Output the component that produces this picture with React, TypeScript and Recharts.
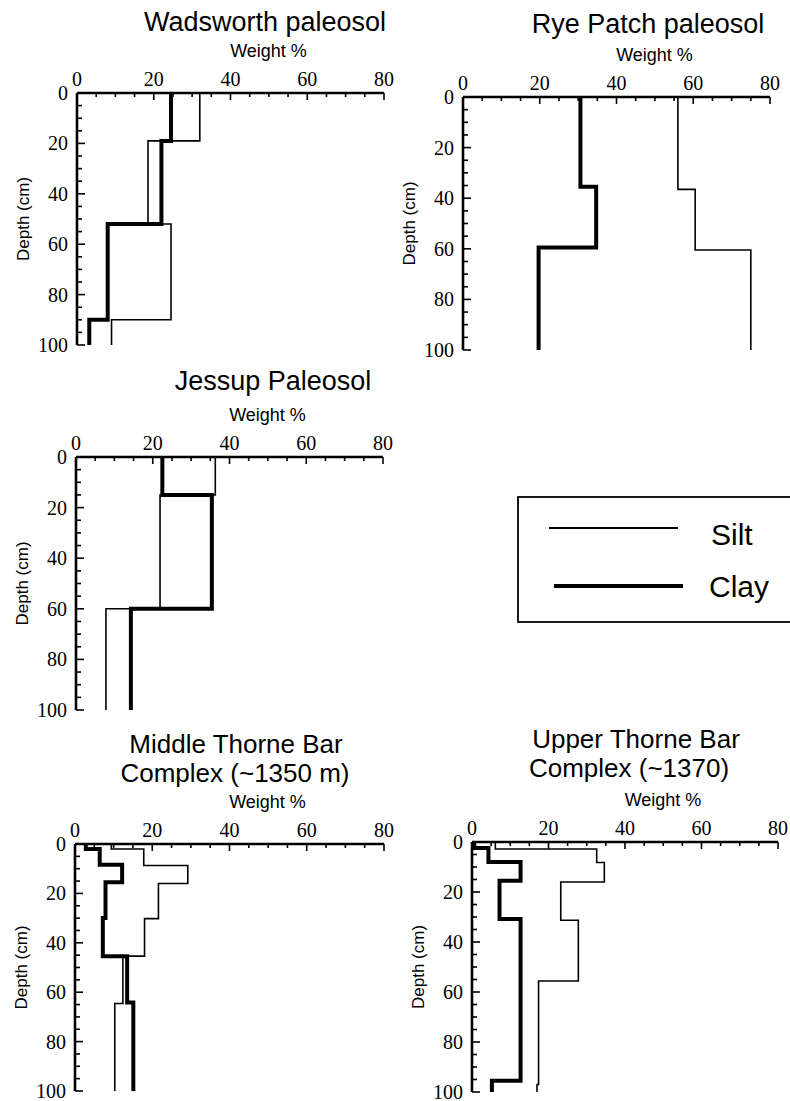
import { LineChart, Line, XAxis, YAxis } from "recharts";

// depth (cm) at the top of each layer, and weight % in that layer
const wadsworthSiltDepth = [0, 19, 52, 90];
const wadsworthSilt = [32, 18.5, 24.5, 9];
const wadsworthClayDepth = [0, 19, 52, 90];
const wadsworthClay = [24.5, 22, 8, 3.2];

const ryeSiltDepth = [0, 36.5, 60.5];
const ryeSilt = [56, 60.5, 75];
const ryeClayDepth = [0, 35.5, 59.5];
const ryeClay = [30.6, 34.7, 19.7];

const jessupSiltDepth = [0, 15, 60];
const jessupSilt = [36.3, 21.9, 7.8];
const jessupClayDepth = [0, 15, 60];
const jessupClay = [22.5, 35.4, 14.3];

const middleSiltDepth = [0, 2, 8.7, 16, 30.2, 45.4, 64.6];
const middleSilt = [9.4, 17.8, 29.2, 21.6, 18, 12.4, 10.3];
const middleClayDepth = [0, 2, 8.4, 15.5, 30, 45.4, 64.2];
const middleClay = [2.8, 6.4, 12.2, 7.9, 7.2, 13.5, 15.1];

const upperSiltDepth = [0, 2.8, 8.2, 16, 31.3, 55.6, 97];
const upperSilt = [6.1, 32.6, 34.6, 23.2, 27.8, 17.4, 17];
const upperClayDepth = [0, 2.4, 8, 15.5, 30.8, 95.5];
const upperClay = [0.6, 4.3, 12.7, 7.2, 12.7, 5.2];

const xTicks = [0, 5, 10, 15, 20, 25, 30, 35, 40, 45, 50, 55, 60, 65, 70, 75, 80];
const yTicks = [0, 5, 10, 15, 20, 25, 30, 35, 40, 45, 50, 55, 60, 65, 70, 75, 80, 85, 90, 95, 100];

// turn layer tops + values into the corners of a step profile
function profile(depths: number[], values: number[]) {
  const pts: { w: number; d: number }[] = [];
  depths.forEach((d, i) => {
    const next = i < depths.length - 1 ? depths[i + 1] : 100;
    pts.push({ w: values[i], d });
    pts.push({ w: values[i], d: next });
  });
  return pts;
}

const SERIF = "Liberation Serif, Times New Roman, serif";
const SANS = "Liberation Sans, Arial, Helvetica, sans-serif";
const AX_W = 70;
const AX_H = 60;
const RIGHT = 30;
const BOTTOM = 14;

const serifText = { fontFamily: SERIF, fontSize: 20 };

const XTick = (props: any) => {
  const { x, y, payload } = props;
  const major = payload.value % 20 === 0;
  return (
    <g>
      <line x1={x} y1={y} x2={x} y2={y + (major ? 7 : 4)} stroke="#000" strokeWidth={1.6} />
      {major && (
        <text x={x} y={y - 7} textAnchor="middle" fill="#000" style={serifText}>
          {payload.value}
        </text>
      )}
    </g>
  );
};

const YTick = (props: any) => {
  const { x, y, payload } = props;
  const major = payload.value % 20 === 0;
  return (
    <g>
      <line x1={x} y1={y} x2={x + (major ? 8 : 5)} y2={y} stroke="#000" strokeWidth={1.6} />
      {major && (
        <text x={x - 9} y={y + 7} textAnchor="end" fill="#000" style={serifText}>
          {payload.value}
        </text>
      )}
    </g>
  );
};

type PanelProps = {
  silt: { w: number; d: number }[];
  clay: { w: number; d: number }[];
  left: number;
  top: number;
  w: number;
  h: number;
};

function Panel({ silt, clay, left, top, w, h }: PanelProps) {
  return (
    <div style={{ position: "absolute", left: left - AX_W, top: top - AX_H }}>
      <LineChart
        width={AX_W + w + RIGHT}
        height={AX_H + h + BOTTOM}
        margin={{ top: 0, right: RIGHT, bottom: BOTTOM, left: 0 }}
      >
        <XAxis
          type="number"
          dataKey="w"
          orientation="top"
          domain={[0, 80]}
          ticks={xTicks}
          interval={0}
          height={AX_H}
          tickSize={0}
          tickMargin={0}
          tickLine={false}
          tick={<XTick />}
          axisLine={{ stroke: "#000", strokeWidth: 2.6 }}
          label={{
            content: ({ viewBox }: any) => (
              <text
                x={viewBox.x + viewBox.width / 2 + 38}
                y={viewBox.y + viewBox.height - 36}
                textAnchor="middle"
                fill="#000"
                style={{ fontFamily: SANS, fontSize: 18 }}
              >
                Weight %
              </text>
            ),
          }}
        />
        <YAxis
          type="number"
          domain={[0, 100]}
          reversed
          ticks={yTicks}
          interval={0}
          width={AX_W}
          tickSize={0}
          tickMargin={0}
          tickLine={false}
          tick={<YTick />}
          axisLine={{ stroke: "#000", strokeWidth: 2.6 }}
          label={{
            content: ({ viewBox }: any) => {
              const cx = viewBox.x + viewBox.width - 54;
              const cy = viewBox.y + viewBox.height / 2;
              return (
                <text
                  x={cx}
                  y={cy}
                  transform={`rotate(-90, ${cx}, ${cy})`}
                  textAnchor="middle"
                  dominantBaseline="central"
                  fill="#000"
                  style={{ fontFamily: SANS, fontSize: 17 }}
                >
                  Depth (cm)
                </text>
              );
            },
          }}
        />
        <Line
          data={silt}
          dataKey="d"
          name="Silt"
          type="linear"
          stroke="#000"
          strokeWidth={1.6}
          strokeLinejoin="miter"
          dot={false}
          activeDot={false}
          isAnimationActive={false}
        />
        <Line
          data={clay}
          dataKey="d"
          name="Clay"
          type="linear"
          stroke="#000"
          strokeWidth={4}
          strokeLinejoin="miter"
          dot={false}
          activeDot={false}
          isAnimationActive={false}
        />
      </LineChart>
    </div>
  );
}

const titleStyle = { fontFamily: SANS, fontSize: 27 };
const title2Style = { fontFamily: SANS, fontSize: 26 };

export default function App() {
  return (
    <div style={{ position: "absolute", left: 0, top: 0, width: 790, height: 1101, background: "#fff" }}>
      <Panel
        silt={profile(wadsworthSiltDepth, wadsworthSilt)}
        clay={profile(wadsworthClayDepth, wadsworthClay)}
        left={77}
        top={93}
        w={307}
        h={252}
      />
      <Panel
        silt={profile(ryeSiltDepth, ryeSilt)}
        clay={profile(ryeClayDepth, ryeClay)}
        left={463}
        top={97}
        w={307}
        h={253}
      />
      <Panel
        silt={profile(jessupSiltDepth, jessupSilt)}
        clay={profile(jessupClayDepth, jessupClay)}
        left={76}
        top={457}
        w={307}
        h={253}
      />
      <Panel
        silt={profile(middleSiltDepth, middleSilt)}
        clay={profile(middleClayDepth, middleClay)}
        left={75}
        top={844}
        w={309}
        h={247}
      />
      <Panel
        silt={profile(upperSiltDepth, upperSilt)}
        clay={profile(upperClayDepth, upperClay)}
        left={472}
        top={842}
        w={306}
        h={250}
      />

      <svg
        width={790}
        height={1101}
        style={{ position: "absolute", left: 0, top: 0, pointerEvents: "none" }}
      >
        <text x={265} y={31} textAnchor="middle" fill="#000" style={titleStyle}>Wadsworth paleosol</text>
        <text x={648} y={33} textAnchor="middle" fill="#000" style={titleStyle}>Rye Patch paleosol</text>
        <text x={273} y={390} textAnchor="middle" fill="#000" style={titleStyle}>Jessup Paleosol</text>
        <text x={236} y={753} textAnchor="middle" fill="#000" style={title2Style}>Middle Thorne Bar</text>
        <text x={235} y={782} textAnchor="middle" fill="#000" style={title2Style}>Complex (~1350 m)</text>
        <text x={636} y={748} textAnchor="middle" fill="#000" style={title2Style}>Upper Thorne Bar</text>
        <text x={629} y={777} textAnchor="middle" fill="#000" style={title2Style}>Complex (~1370)</text>

        {/* legend */}
        <rect x={518} y={497} width={290} height={125} fill="none" stroke="#000" strokeWidth={1.8} />
        <line x1={549} y1={528} x2={678} y2={528} stroke="#000" strokeWidth={1.8} />
        <line x1={554} y1={586} x2={683} y2={586} stroke="#000" strokeWidth={4} />
        <text x={711} y={545} fill="#000" style={{ fontFamily: SANS, fontSize: 30 }}>Silt</text>
        <text x={709} y={597} fill="#000" style={{ fontFamily: SANS, fontSize: 30 }}>Clay</text>
      </svg>
    </div>
  );
}
